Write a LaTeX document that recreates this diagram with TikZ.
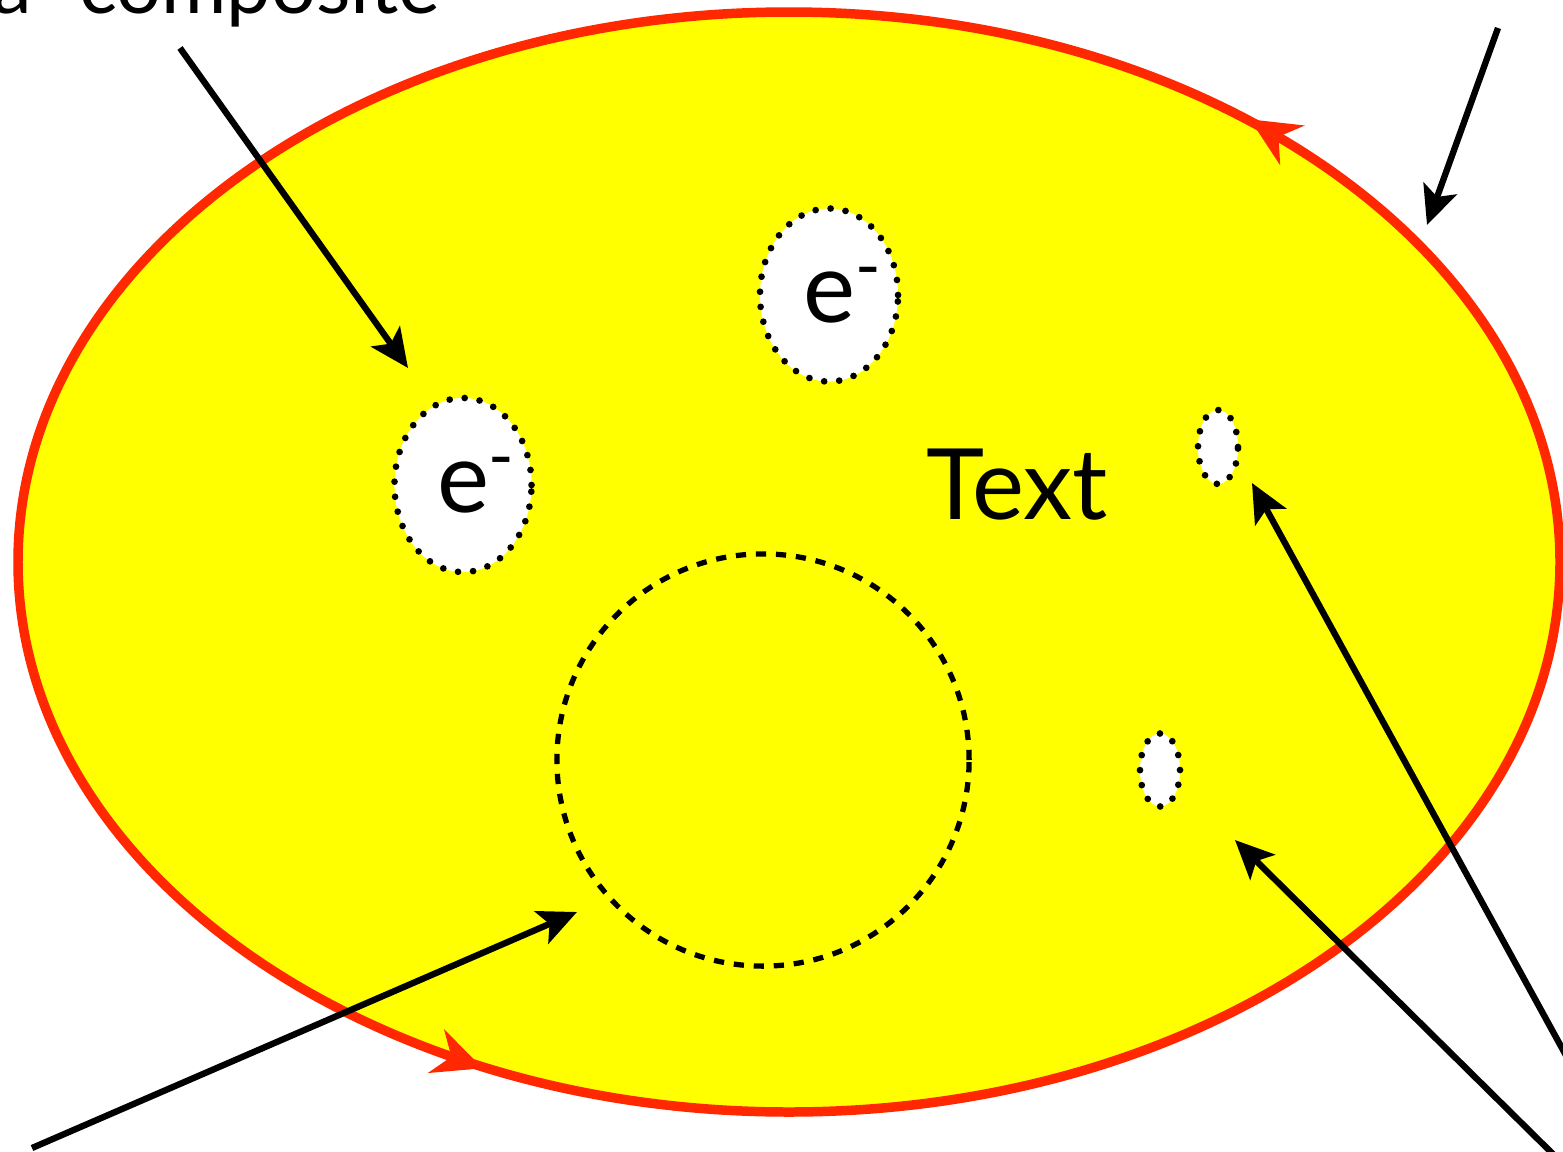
\documentclass[tikz,border=0pt]{standalone}
\usepackage{fontspec}
\setmainfont{Lato}
\usetikzlibrary{arrows.meta,shapes.geometric,decorations.markings}
\definecolor{rim}{RGB}{255,40,0}
\definecolor{yolk}{RGB}{255,255,0}
\tikzset{
  pointer/.style={-{Stealth[length=11pt,width=10pt,inset=2.5pt]}, line width=1.8pt},
  hole/.style={ellipse, draw, fill=white, line width=1.9pt, dash pattern=on 0pt off 4.3pt, line cap=round, inner sep=0pt},
  cavity/.style={circle, draw, line width=1.5pt, dash pattern=on 2.9pt off 2.8pt, inner sep=0pt},
  rimtip/.tip={Stealth[reversed, length=14pt, width=13pt, inset=4.5pt]},
  bigtxt/.style={font=\fontsize{28}{34}\selectfont},
  captxt/.style={font=\fontsize{22.6}{27}\selectfont},
}

\begin{document}
\begin{tikzpicture}[x=0.01cm, y=-0.01cm]
  \useasboundingbox (0,0) rectangle (1563,1151);
  % outer body with its sense of circulation
  \draw[rim, line width=2.7pt, fill=yolk, postaction={decorate},
    decoration={markings,
      mark=at position 0.336 with {\arrow[rim]{rimtip}},
      mark=at position 0.876 with {\arrow[rim]{rimtip}}}]
    (789,562) ellipse [x radius=771, y radius=550];
  \node[hole, minimum width=1.37cm, minimum height=1.74cm, bigtxt] (eleft) at (463,485) {e\rlap{\textsuperscript{-}}};
  \node[hole, minimum width=1.38cm, minimum height=1.73cm, bigtxt] (etop) at (829,295) {e\rlap{\textsuperscript{-}}};
  \node[hole, minimum width=0.40cm, minimum height=0.74cm] (holeA) at (1218,447) {};
  \node[hole, minimum width=0.40cm, minimum height=0.73cm] (holeB) at (1160,770) {};
  \node[cavity, minimum size=4.12cm] (bubble) at (763,760) {};
  \node[bigtxt] (label) at (1017,485) {Text};
  \node[captxt, anchor=base west] (caption) at (-20,13) {a “composite”};
  % pointers
  \coordinate (tailA) at (180,48);   \coordinate (tipA) at (408,368);
  \coordinate (tailB) at (1498,28);  \coordinate (tipB) at (1427,225);
  \coordinate (tailC) at (1580,1081); \coordinate (tipC) at (1252,483);
  \coordinate (tailD) at (1560,1161); \coordinate (tipD) at (1235,840);
  \coordinate (tailE) at (32,1148);  \coordinate (tipE) at (577,912);
  \draw[pointer] (tailA) -- (tipA);
  \draw[pointer] (tailB) -- (tipB);
  \draw[pointer] (tailC) -- (tipC);
  \draw[pointer] (tailD) -- (tipD);
  \draw[pointer] (tailE) -- (tipE);
\end{tikzpicture}
\end{document}
